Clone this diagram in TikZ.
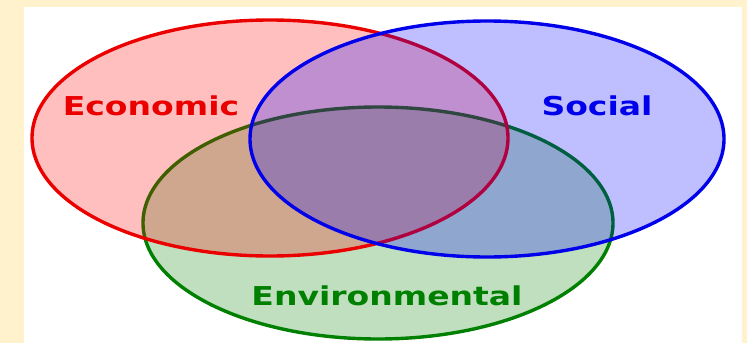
\documentclass[tikz,border=0pt]{standalone}
\usepackage{fontspec}
\setmainfont{DejaVu Sans}
\definecolor{cream}{RGB}{255,242,204}
\definecolor{ered}{RGB}{235,0,0}
\definecolor{sblue}{RGB}{0,0,235}
\definecolor{egreen}{RGB}{0,128,0}
\tikzset{
  venn/.style={line width=3.4pt, fill opacity=0.25},
  lbl/.style={font=\bfseries\fontsize{26}{26}\selectfont, xscale=1.27, transform shape, inner sep=0pt}
}
\begin{document}
\begin{tikzpicture}[x=1pt,y=-1pt]
\useasboundingbox (0,0) rectangle (747,343);
\fill[cream] (0,0) rectangle (747,343);
\fill[white] (24,7) rectangle (742,343);
\filldraw[venn, draw=egreen, fill=egreen] (378,223) ellipse [x radius=235, y radius=116];
\filldraw[venn, draw=ered, fill=red] (270,138) ellipse [x radius=238, y radius=118];
\filldraw[venn, draw=sblue, fill=blue] (487,139) ellipse [x radius=237, y radius=118];
\node[lbl, text=ered] (eco) at (151,106) {Economic};
\node[lbl, text=sblue] (soc) at (597,106) {Social};
\node[lbl, text=egreen] (env) at (387,296) {Environmental};
\end{tikzpicture}
\end{document}
